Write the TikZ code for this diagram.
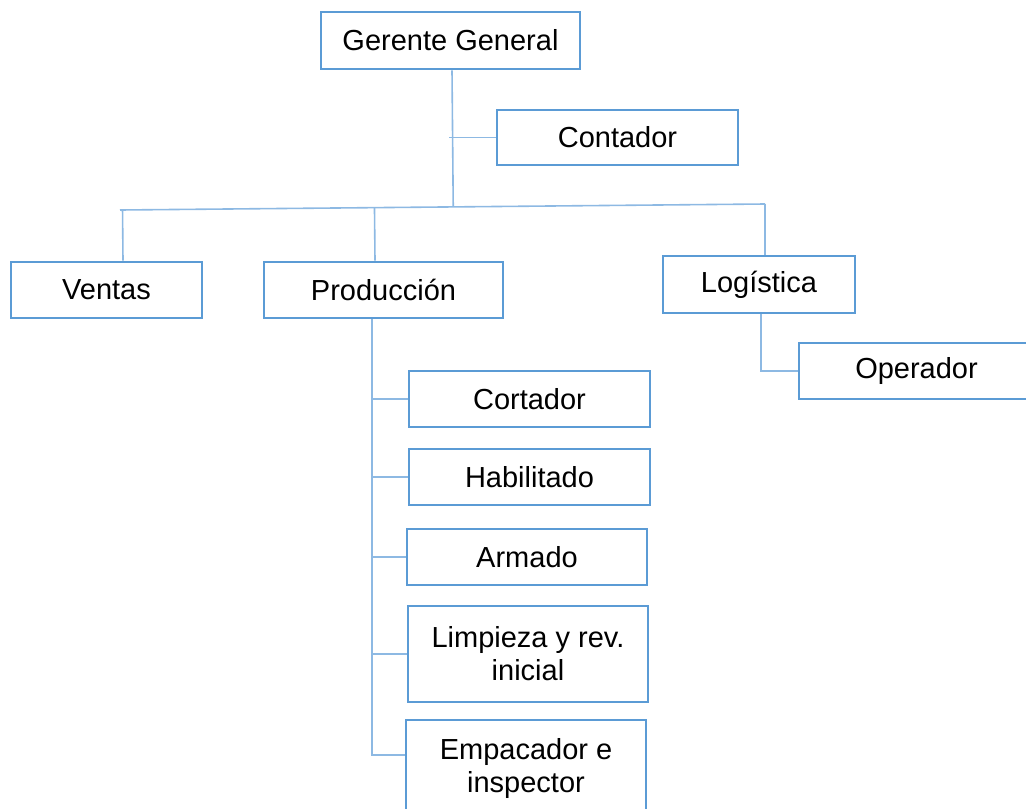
\documentclass[tikz,border=0pt]{standalone}
\usepackage{fontspec}
\setmainfont{Liberation Sans}
\usepackage{xcolor}
\usetikzlibrary{calc}
\definecolor{b1}{HTML}{5B9BD5}
\definecolor{b2}{HTML}{8DB9E3}
\tikzstyle{box}=[draw=b1,line width=2.8pt,rectangle,inner sep=0pt,align=center,font=\fontsize{29}{33}\selectfont]
\tikzstyle{link}=[draw=b2,line width=1.6pt]

\begin{document}
\begin{tikzpicture}[x=1pt,y=-1pt]
  \useasboundingbox (0,0) rectangle (1026,809);
  \clip (0,0) rectangle (1026,809);
  % boxes
  \node[box,minimum width=259pt,minimum height=57pt] (gg) at (450.5,40.5) {Gerente General};
  \node[box,minimum width=241pt,minimum height=55pt] (cont) at (617.5,137.5) {Contador};
  \node[box,minimum width=191pt,minimum height=56pt] (vent) at (106.5,290) {Ventas};
  \node[box,minimum width=239pt,minimum height=56pt] (prod) at (383.5,290) {Producción};
  \node[box,minimum width=192pt,minimum height=57pt] (log) at (759,284.5) {Logística};
  \node[box,minimum width=235pt,minimum height=56pt] (oper) at (916.5,371) {Operador};
  \node[box,minimum width=241pt,minimum height=56pt] (cort) at (529.5,399) {Cortador};
  \node[box,minimum width=241pt,minimum height=56pt] (hab) at (529.5,477) {Habilitado};
  \node[box,minimum width=240pt,minimum height=56pt] (arm) at (527,557) {Armado};
  \node[box,minimum width=240pt,minimum height=96pt] (limp) at (528,654) {Limpieza y rev.\\inicial};
  \node[box,minimum width=240pt,minimum height=96pt] (emp) at (526,768) {Empacador e\\inspector};
  % connectors
  \coordinate (busL) at (120,210);
  \coordinate (busR) at (765,204);
  \coordinate (pbot) at (372,755);
  \draw[link] (busL) -- (busR);
  \draw[link] ([xshift=1.5pt]gg.south) -- ($(busL)!([xshift=1.5pt]gg.south)!(busR)$);
  \draw[link] ([xshift=-1.5pt]gg.south |- cont.west) -- (cont.west);
  \draw[link] ([xshift=16.5pt]vent.north) -- ($(busL)!([xshift=16.5pt]vent.north)!(busR)$);
  \draw[link] ([xshift=-8.5pt]prod.north) -- ($(busL)!([xshift=-8.5pt]prod.north)!(busR)$);
  \draw[link] ([xshift=6pt]log.north) -- (busR);
  \draw[link] ([xshift=2pt]log.south) -- ([xshift=2pt]log.south |- oper.west) -- (oper.west);
  \draw[link] (pbot |- prod.south) -- (pbot) -- (pbot -| emp.west);
  \foreach \n in {cort,hab,arm,limp}
    \draw[link] (pbot |- \n.west) -- (\n.west);
\end{tikzpicture}
\end{document}
